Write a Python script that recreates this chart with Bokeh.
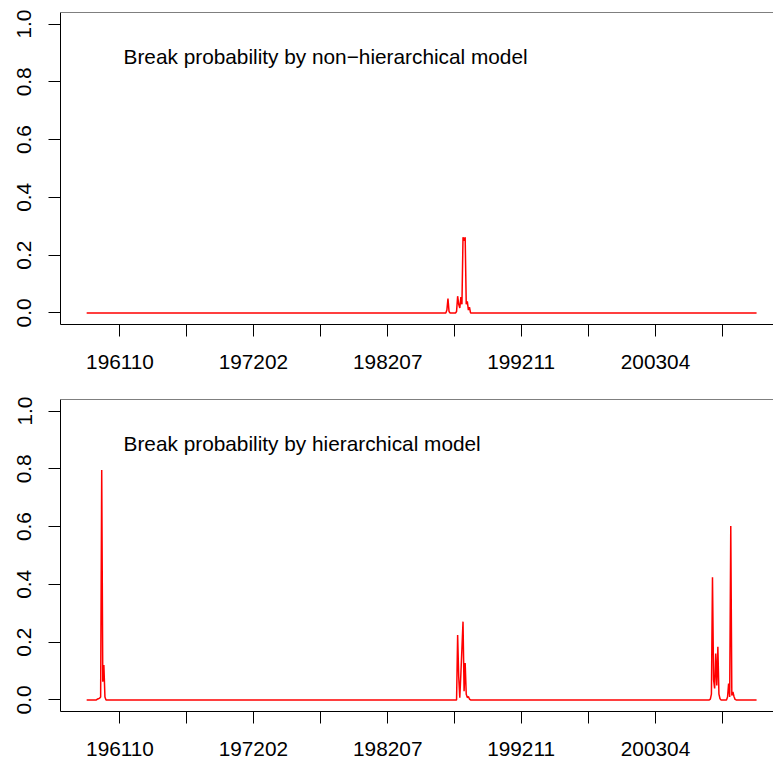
import math
import numpy as np
from bokeh.plotting import figure
from bokeh.models import FixedTicker, Span, Label, Range1d, ColumnDataSource
from bokeh.layouts import column
from bokeh.embed import file_html
from bokeh.resources import INLINE

# ---------------- data ----------------
n_obs = 624  # monthly observations, index 0 .. 623

x_tick_pos = [31, 93, 155, 217.5, 280, 342, 404, 467, 529, 591.5]
x_tick_labels = ["196110", "", "197202", "", "198207", "", "199211", "", "200304", ""]
y_tick_pos = [0.0, 0.2, 0.4, 0.6, 0.8, 1.0]
y_tick_labels = ["0.0", "0.2", "0.4", "0.6", "0.8", "1.0"]

title_top = "Break probability by non\u2212hierarchical model"
title_bottom = "Break probability by hierarchical model"

# non-hierarchical model: non-zero break probabilities (index, value)
top_idx = [335, 336, 337, 344, 345, 346, 347, 348, 349, 350, 351, 352, 353, 354, 355, 356]
top_val = [0.01, 0.05, 0.005, 0.005, 0.058, 0.03, 0.017, 0.055, 0.03, 0.262, 0.25, 0.262, 0.03, 0.04, 0.01, 0.02]

# hierarchical model: non-zero break probabilities (index, value)
bot_idx = [10, 11, 12, 13, 14, 15, 16, 17,
           345, 346, 347, 348, 349, 350, 351, 352, 353, 354, 355, 356,
           580, 581, 582, 583, 584, 585, 586, 587, 588, 589,
           596, 597, 598, 599, 600, 601, 602, 603]
bot_val = [0.003, 0.004, 0.006, 0.01, 0.796, 0.063, 0.121, 0.01,
           0.225, 0.08, 0.008, 0.09, 0.18, 0.271, 0.03, 0.128, 0.02, 0.008, 0.012, 0.003,
           0.003, 0.02, 0.425, 0.07, 0.04, 0.161, 0.05, 0.184, 0.02, 0.004,
           0.01, 0.057, 0.01, 0.602, 0.015, 0.028, 0.012, 0.002]

FONT = "Liberation Sans"
FS = "20.8px"


def build_series(idx, val):
    y = np.zeros(n_obs)
    y[np.array(idx)] = np.array(val)
    return y


def panel(idx, val, title, top_border, bottom_border, standoff_x):
    x = np.arange(n_obs)
    y = build_series(idx, val)
    src = ColumnDataSource(dict(x=x, y=y))
    p = figure(frame_width=713, frame_height=312,
               x_range=Range1d(-24.33, 638.74), y_range=Range1d(-0.04, 1.04),
               output_backend="svg", toolbar_location=None,
               min_border_left=60, min_border_right=0, min_border_top=top_border,
               min_border_bottom=bottom_border)
    p.outline_line_color = None
    p.background_fill_color = "white"
    p.border_fill_color = "white"
    p.xgrid.visible = False
    p.ygrid.visible = False

    p.line("x", "y", source=src, line_color="#ff0000", line_width=1.5)

    p.add_layout(Span(location=1.04, dimension="width", line_color="black", line_width=1))

    p.xaxis.ticker = FixedTicker(ticks=x_tick_pos)
    p.xaxis.major_label_overrides = {t: l for t, l in zip(x_tick_pos, x_tick_labels)}
    p.yaxis.ticker = FixedTicker(ticks=y_tick_pos)
    p.yaxis.major_label_overrides = {t: l for t, l in zip(y_tick_pos, y_tick_labels)}
    p.yaxis.major_label_orientation = "parallel"

    for ax in (p.xaxis, p.yaxis):
        ax.axis_line_color = "black"
        ax.axis_line_width = 1
        ax.major_tick_line_color = "black"
        ax.major_tick_in = 0
        ax.major_tick_out = 12
        ax.minor_tick_line_color = None
        ax.major_label_text_font = FONT
        ax.major_label_text_font_size = FS
        ax.major_label_text_color = "black"
    p.xaxis.major_label_standoff = standoff_x
    p.yaxis.major_label_standoff = 17

    p.add_layout(Label(x=34.3, y=0.888, text=title, text_font=FONT,
                       text_font_size=FS, text_color="black",
                       text_baseline="alphabetic", text_align="left"))
    return p


p1 = panel(top_idx, top_val, title_top, 12, 71, 18)
p2 = panel(bot_idx, bot_val, title_bottom, 4, 52, 18)

layout = column(p1, p2, spacing=0)
open("out.html", "w").write(file_html(layout, INLINE))
